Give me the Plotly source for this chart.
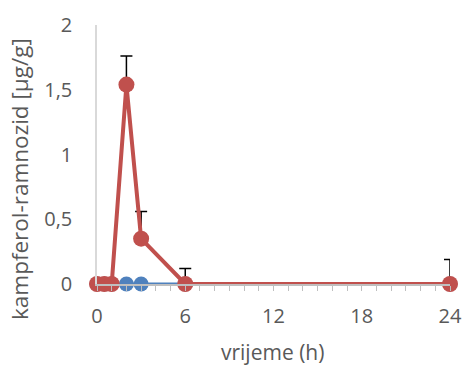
import plotly.graph_objects as go

time_h = [0, 0.5, 1, 2, 3, 6, 24]
blue_vals = [0, 0, 0, 0, 0, 0, 0]
red_vals = [0, 0, 0, 1.54, 0.35, 0, 0]
red_err = [0, 0, 0, 0.22, 0.21, 0.12, 0.19]
x_ticks = [0, 6, 12, 18, 24]
y_ticks = [0, 0.5, 1, 1.5, 2]
y_ticklabels = ["0", "0,5", "1", "1,5", "2"]
x_title = "vrijeme (h)"
y_title = "kampferol-ramnozid [µg/g]"

FONT = "Open Sans"
TXT = "#595959"
L, R, T, B = 97, 13, 25, 81
W, H = 463, 365
PW, PH = W - L - R, H - T - B

fig = go.Figure()
fig.add_trace(go.Scatter(
    x=time_h, y=blue_vals, mode="lines+markers",
    line=dict(color="#4F81BD", width=3),
    marker=dict(color="#4F81BD", size=15),
    cliponaxis=False, showlegend=False))
fig.add_trace(go.Scatter(
    x=time_h, y=red_vals, mode="lines+markers",
    line=dict(color="#C0504D", width=4),
    marker=dict(color="#C0504D", size=16),
    error_y=dict(type="data", array=red_err, symmetric=False, arrayminus=[0]*len(red_err),
                 color="black", thickness=1.5, width=6),
    cliponaxis=False, showlegend=False))

fig.update_layout(
    width=W, height=H,
    margin=dict(l=L, r=R, t=T, b=B),
    plot_bgcolor="white", paper_bgcolor="white",
    font=dict(family=FONT, size=20, color=TXT),
    xaxis=dict(range=[0, 24], tickvals=x_ticks, showgrid=False, zeroline=False,
               automargin=False,
               showline=True, linecolor="#BFBFBF", linewidth=1.5,
               ticks="outside", ticklen=5, tickcolor="#BFBFBF",
               ticklabelstandoff=8,
               minor=dict(dtick=1, ticks="outside", ticklen=5, tickcolor="#BFBFBF"),
               tickfont=dict(size=20, color=TXT)),
    yaxis=dict(range=[0, 2], tickvals=y_ticks, ticktext=y_ticklabels, showgrid=False,
               automargin=False,
               zeroline=False, showline=True, linecolor="#D9D9D9", linewidth=1.5,
               ticks="", ticklabelstandoff=19,
               tickfont=dict(size=20, color=TXT)),
    annotations=[
        dict(text=y_title, textangle=-90, xref="paper", yref="paper",
             x=(20 - L) / PW, y=(H - B - 179) / PH, xanchor="center", yanchor="middle",
             showarrow=False, font=dict(size=22.5, color=TXT)),
        dict(text=x_title, xref="paper", yref="paper",
             x=(272 - L) / PW, y=(H - B - 352) / PH, xanchor="center", yanchor="middle",
             showarrow=False, font=dict(size=21, color=TXT)),
    ],
)
fig.write_html("out.html", config={"displayModeBar": False},
               post_script="document.body.style.margin='0';document.body.style.overflow='hidden';")
